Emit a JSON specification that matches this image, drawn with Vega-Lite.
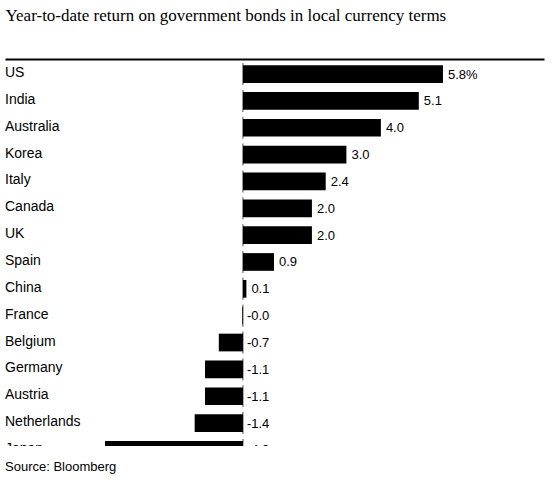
{
  "$schema": "https://vega.github.io/schema/vega-lite/v6.json",
  "width": 539,
  "height": 387,
  "autosize": "none",
  "padding": {"left": 5, "top": 59, "right": 7, "bottom": 35},
  "background": "white",
  "title": {
    "text": "Source: Bloomberg",
    "orient": "bottom",
    "anchor": "start",
    "font": "Liberation Sans",
    "fontSize": 13,
    "fontWeight": "normal",
    "color": "#000",
    "baseline": "alphabetic",
    "offset": 25
  },
  "data": {
    "values": [
      {"country": "US", "value": 5.8, "label": "5.8%"},
      {"country": "India", "value": 5.1, "label": "5.1"},
      {"country": "Australia", "value": 4.0, "label": "4.0"},
      {"country": "Korea", "value": 3.0, "label": "3.0"},
      {"country": "Italy", "value": 2.4, "label": "2.4"},
      {"country": "Canada", "value": 2.0, "label": "2.0"},
      {"country": "UK", "value": 2.0, "label": "2.0"},
      {"country": "Spain", "value": 0.9, "label": "0.9"},
      {"country": "China", "value": 0.1, "label": "0.1"},
      {"country": "France", "value": -0.02, "label": "-0.0"},
      {"country": "Belgium", "value": -0.7, "label": "-0.7"},
      {"country": "Germany", "value": -1.1, "label": "-1.1"},
      {"country": "Austria", "value": -1.1, "label": "-1.1"},
      {"country": "Netherlands", "value": -1.4, "label": "-1.4"},
      {"country": "Japan", "value": -4.0, "label": "-4.0"}
    ]
  },
  "encoding": {
    "y": {
      "field": "country",
      "type": "nominal",
      "sort": null,
      "axis": null,
      "scale": {
        "domain": ["US", "India", "Australia", "Korea", "Italy", "Canada", "UK", "Spain", "China", "France", "Belgium", "Germany", "Austria", "Netherlands", "Japan"],
        "range": [1.6, 404.35],
        "paddingInner": 0,
        "paddingOuter": 0
      }
    }
  },
  "layer": [
    {
      "mark": {"type": "bar", "height": 17.7, "color": "#000", "clip": true},
      "encoding": {
        "x": {
          "field": "value",
          "type": "quantitative",
          "scale": {"domain": [-6.9, 8.73], "nice": false, "zero": false},
          "axis": {
            "orient": "top",
            "title": "Year-to-date return on government bonds in local currency terms",
            "labels": false,
            "ticks": false,
            "grid": false,
            "domain": true
          }
        }
      }
    },
    {
      "mark": {"type": "tick", "orient": "vertical", "size": 22, "thickness": 1, "color": "#000", "clip": true},
      "encoding": {
        "x": {
          "datum": 0,
          "type": "quantitative",
          "axis": {
            "orient": "top",
            "title": "Year-to-date return on government bonds in local currency terms",
            "labels": false,
            "ticks": false,
            "grid": false,
            "domain": true
          }
        }
      }
    },
    {
      "mark": {"type": "text", "align": "left", "baseline": "alphabetic", "dy": 3, "font": "Liberation Sans", "fontSize": 14, "color": "#000", "clip": true},
      "encoding": {
        "x": {
          "datum": -6.9,
          "type": "quantitative",
          "axis": {
            "orient": "top",
            "title": "Year-to-date return on government bonds in local currency terms",
            "labels": false,
            "ticks": false,
            "grid": false,
            "domain": true
          }
        },
        "text": {"field": "country"}
      }
    },
    {
      "transform": [{"filter": "datum.value >= 0"}],
      "mark": {"type": "text", "align": "left", "baseline": "alphabetic", "dx": 5, "dy": 4.5, "font": "Liberation Sans", "fontSize": 13, "color": "#000", "clip": true},
      "encoding": {
        "x": {
          "field": "value",
          "type": "quantitative",
          "axis": {
            "orient": "top",
            "title": "Year-to-date return on government bonds in local currency terms",
            "labels": false,
            "ticks": false,
            "grid": false,
            "domain": true
          }
        },
        "text": {"field": "label"}
      }
    },
    {
      "transform": [{"filter": "datum.value < 0"}],
      "mark": {"type": "text", "align": "left", "baseline": "alphabetic", "dx": 4, "dy": 4.5, "font": "Liberation Sans", "fontSize": 13, "color": "#000", "clip": true},
      "encoding": {
        "x": {
          "datum": 0,
          "type": "quantitative",
          "axis": {
            "orient": "top",
            "title": "Year-to-date return on government bonds in local currency terms",
            "labels": false,
            "ticks": false,
            "grid": false,
            "domain": true
          }
        },
        "text": {"field": "label"}
      }
    }
  ],
  "config": {
    "view": {"stroke": null},
    "axisX": {
      "domainColor": "#000",
      "domainWidth": 2,
      "titleFont": "Liberation Serif",
      "titleFontSize": 17,
      "titleFontWeight": "normal",
      "titleColor": "#000",
      "titleAnchor": "start",
      "titleAlign": "left",
      "titleBaseline": "alphabetic",
      "titlePadding": 39
    }
  }
}
